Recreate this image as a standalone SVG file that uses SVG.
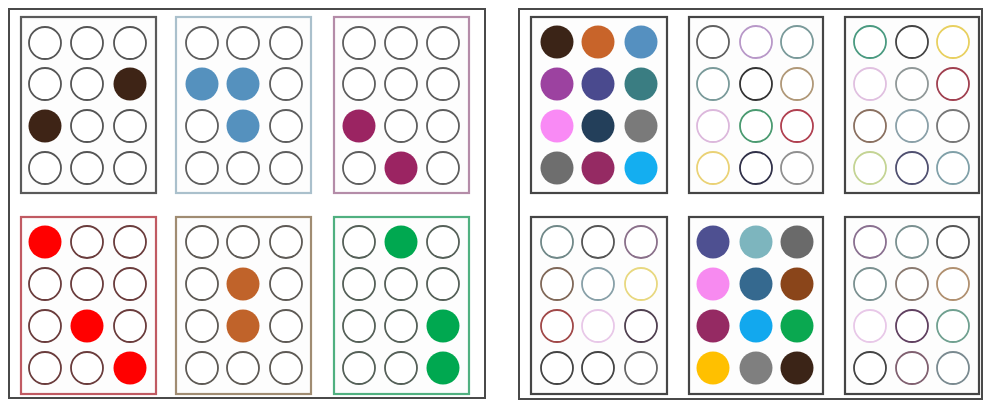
<svg xmlns="http://www.w3.org/2000/svg" width="985" height="401" viewBox="0 0 985 401">
<style>
.outer{fill:#fff;stroke:#4a4a4a;stroke-width:2}
.sub{fill:#fdfdfd;stroke-width:2.2}
.e{fill:#fff;stroke-width:1.8}
.f{stroke:none}
</style>
<rect width="985" height="401" fill="#fff"/>
<rect class="outer" x="9" y="9" width="476" height="389"/>
<rect class="outer" x="519" y="9" width="463" height="390"/>

<!-- Left panel -->
<g id="L1">
<rect class="sub" x="21" y="17" width="135" height="176" stroke="#5a5a5a"/>
<g stroke="#555">
<circle class="e" cx="45" cy="43" r="16"/><circle class="e" cx="87" cy="43" r="16"/><circle class="e" cx="130" cy="43" r="16"/>
<circle class="e" cx="45" cy="84" r="16"/><circle class="e" cx="87" cy="84" r="16"/>
<circle class="e" cx="87" cy="126" r="16"/><circle class="e" cx="130" cy="126" r="16"/>
<circle class="e" cx="45" cy="168" r="16"/><circle class="e" cx="87" cy="168" r="16"/><circle class="e" cx="130" cy="168" r="16"/>
</g>
<circle class="f" cx="130" cy="84" r="16.5" fill="#3e2416"/>
<circle class="f" cx="45" cy="126" r="16.5" fill="#3e2416"/>
</g>

<g id="L2">
<rect class="sub" x="176" y="17" width="135" height="176" stroke="#aac0cc"/>
<g stroke="#5e5e5e">
<circle class="e" cx="202" cy="43" r="16"/><circle class="e" cx="243" cy="43" r="16"/><circle class="e" cx="286" cy="43" r="16"/>
<circle class="e" cx="286" cy="84" r="16"/>
<circle class="e" cx="202" cy="126" r="16"/><circle class="e" cx="286" cy="126" r="16"/>
<circle class="e" cx="202" cy="168" r="16"/><circle class="e" cx="243" cy="168" r="16"/><circle class="e" cx="286" cy="168" r="16"/>
</g>
<g fill="#5591be"><circle class="f" cx="202" cy="84" r="16.5"/><circle class="f" cx="243" cy="84" r="16.5"/><circle class="f" cx="243" cy="126" r="16.5"/></g>
</g>

<g id="L3">
<rect class="sub" x="334" y="17" width="135" height="176" stroke="#b48ca8"/>
<g stroke="#5e5e5e">
<circle class="e" cx="359" cy="43" r="16"/><circle class="e" cx="401" cy="43" r="16"/><circle class="e" cx="443" cy="43" r="16"/>
<circle class="e" cx="359" cy="84" r="16"/><circle class="e" cx="401" cy="84" r="16"/><circle class="e" cx="443" cy="84" r="16"/>
<circle class="e" cx="401" cy="126" r="16"/><circle class="e" cx="443" cy="126" r="16"/>
<circle class="e" cx="359" cy="168" r="16"/><circle class="e" cx="443" cy="168" r="16"/>
</g>
<g fill="#9b2462"><circle class="f" cx="359" cy="126" r="16.5"/><circle class="f" cx="401" cy="168" r="16.5"/></g>
</g>

<g id="L4">
<rect class="sub" x="21" y="217" width="135" height="177" stroke="#c05a62"/>
<g stroke="#6a3c3c">
<circle class="e" cx="87" cy="242" r="16"/><circle class="e" cx="130" cy="242" r="16"/>
<circle class="e" cx="45" cy="284" r="16"/><circle class="e" cx="87" cy="284" r="16"/><circle class="e" cx="130" cy="284" r="16"/>
<circle class="e" cx="45" cy="326" r="16"/><circle class="e" cx="130" cy="326" r="16"/>
<circle class="e" cx="45" cy="368" r="16"/><circle class="e" cx="87" cy="368" r="16"/>
</g>
<g fill="#ff0000"><circle class="f" cx="45" cy="242" r="16.5"/><circle class="f" cx="87" cy="326" r="16.5"/><circle class="f" cx="130" cy="368" r="16.5"/></g>
</g>

<g id="L5">
<rect class="sub" x="176" y="217" width="135" height="177" stroke="#a08c72"/>
<g stroke="#5e5a55">
<circle class="e" cx="202" cy="242" r="16"/><circle class="e" cx="243" cy="242" r="16"/><circle class="e" cx="286" cy="242" r="16"/>
<circle class="e" cx="202" cy="284" r="16"/><circle class="e" cx="286" cy="284" r="16"/>
<circle class="e" cx="202" cy="326" r="16"/><circle class="e" cx="286" cy="326" r="16"/>
<circle class="e" cx="202" cy="368" r="16"/><circle class="e" cx="243" cy="368" r="16"/><circle class="e" cx="286" cy="368" r="16"/>
</g>
<g fill="#c0632a"><circle class="f" cx="243" cy="284" r="16.5"/><circle class="f" cx="243" cy="326" r="16.5"/></g>
</g>

<g id="L6">
<rect class="sub" x="334" y="217" width="135" height="177" stroke="#50b080"/>
<g stroke="#556058">
<circle class="e" cx="359" cy="242" r="16"/><circle class="e" cx="443" cy="242" r="16"/>
<circle class="e" cx="359" cy="284" r="16"/><circle class="e" cx="401" cy="284" r="16"/><circle class="e" cx="443" cy="284" r="16"/>
<circle class="e" cx="359" cy="326" r="16"/><circle class="e" cx="401" cy="326" r="16"/>
<circle class="e" cx="359" cy="368" r="16"/><circle class="e" cx="401" cy="368" r="16"/>
</g>
<g fill="#00a850"><circle class="f" cx="401" cy="242" r="16.5"/><circle class="f" cx="443" cy="326" r="16.5"/><circle class="f" cx="443" cy="368" r="16.5"/></g>
</g>

<!-- Right panel -->
<g id="R1">
<rect class="sub" x="531" y="17" width="136" height="176" stroke="#454545"/>
<circle class="f" cx="557" cy="42" r="16.5" fill="#3b2417"/><circle class="f" cx="598" cy="42" r="16.5" fill="#c8642a"/><circle class="f" cx="641" cy="42" r="16.5" fill="#5590c0"/>
<circle class="f" cx="557" cy="84" r="16.5" fill="#9c42a0"/><circle class="f" cx="598" cy="84" r="16.5" fill="#4a4a8e"/><circle class="f" cx="641" cy="84" r="16.5" fill="#3a7d82"/>
<circle class="f" cx="557" cy="126" r="16.5" fill="#f98af5"/><circle class="f" cx="598" cy="126" r="16.5" fill="#233f5a"/><circle class="f" cx="641" cy="126" r="16.5" fill="#7a7a7a"/>
<circle class="f" cx="557" cy="168" r="16.5" fill="#6e6e6e"/><circle class="f" cx="598" cy="168" r="16.5" fill="#952a63"/><circle class="f" cx="641" cy="168" r="16.5" fill="#14aef0"/>
</g>

<g id="R2">
<rect class="sub" x="689" y="17" width="134" height="176" stroke="#454545"/>
<circle class="e" cx="713" cy="42" r="16" stroke="#606060"/><circle class="e" cx="756" cy="42" r="16" stroke="#b898c8"/><circle class="e" cx="797" cy="42" r="16" stroke="#7a9a9a"/>
<circle class="e" cx="713" cy="84" r="16" stroke="#7a9a9a"/><circle class="e" cx="756" cy="84" r="16" stroke="#333"/><circle class="e" cx="797" cy="84" r="16" stroke="#b09878"/>
<circle class="e" cx="713" cy="126" r="16" stroke="#dcb8dc"/><circle class="e" cx="756" cy="126" r="16" stroke="#4a9a70"/><circle class="e" cx="797" cy="126" r="16" stroke="#b04050"/>
<circle class="e" cx="713" cy="168" r="16" stroke="#ead276"/><circle class="e" cx="756" cy="168" r="16" stroke="#303048"/><circle class="e" cx="797" cy="168" r="16" stroke="#909090"/>
</g>

<g id="R3">
<rect class="sub" x="845" y="17" width="134" height="176" stroke="#454545"/>
<circle class="e" cx="870" cy="42" r="16" stroke="#4a9a80"/><circle class="e" cx="912" cy="42" r="16" stroke="#444"/><circle class="e" cx="953" cy="42" r="16" stroke="#e8d060"/>
<circle class="e" cx="870" cy="84" r="16" stroke="#e0c0e0"/><circle class="e" cx="912" cy="84" r="16" stroke="#909898"/><circle class="e" cx="953" cy="84" r="16" stroke="#a04050"/>
<circle class="e" cx="870" cy="126" r="16" stroke="#8a7060"/><circle class="e" cx="912" cy="126" r="16" stroke="#8aa0a8"/><circle class="e" cx="953" cy="126" r="16" stroke="#777"/>
<circle class="e" cx="870" cy="168" r="16" stroke="#c4d494"/><circle class="e" cx="912" cy="168" r="16" stroke="#505070"/><circle class="e" cx="953" cy="168" r="16" stroke="#80a0a8"/>
</g>

<g id="R4">
<rect class="sub" x="531" y="217" width="136" height="177" stroke="#454545"/>
<circle class="e" cx="557" cy="242" r="16" stroke="#708888"/><circle class="e" cx="598" cy="242" r="16" stroke="#555"/><circle class="e" cx="641" cy="242" r="16" stroke="#8a708a"/>
<circle class="e" cx="557" cy="284" r="16" stroke="#806858"/><circle class="e" cx="598" cy="284" r="16" stroke="#88a0a8"/><circle class="e" cx="641" cy="284" r="16" stroke="#e8d880"/>
<circle class="e" cx="557" cy="326" r="16" stroke="#a04848"/><circle class="e" cx="598" cy="326" r="16" stroke="#e8c8e8"/><circle class="e" cx="641" cy="326" r="16" stroke="#504050"/>
<circle class="e" cx="557" cy="368" r="16" stroke="#444"/><circle class="e" cx="598" cy="368" r="16" stroke="#444"/><circle class="e" cx="641" cy="368" r="16" stroke="#666"/>
</g>

<g id="R5">
<rect class="sub" x="689" y="217" width="134" height="177" stroke="#454545"/>
<circle class="f" cx="713" cy="242" r="16.5" fill="#4e5091"/><circle class="f" cx="756" cy="242" r="16.5" fill="#7db5be"/><circle class="f" cx="797" cy="242" r="16.5" fill="#6a6a6a"/>
<circle class="f" cx="713" cy="284" r="16.5" fill="#f78af0"/><circle class="f" cx="756" cy="284" r="16.5" fill="#35698f"/><circle class="f" cx="797" cy="284" r="16.5" fill="#8a451a"/>
<circle class="f" cx="713" cy="326" r="16.5" fill="#952a63"/><circle class="f" cx="756" cy="326" r="16.5" fill="#12a8ee"/><circle class="f" cx="797" cy="326" r="16.5" fill="#0aa850"/>
<circle class="f" cx="713" cy="368" r="16.5" fill="#ffc000"/><circle class="f" cx="756" cy="368" r="16.5" fill="#7f7f7f"/><circle class="f" cx="797" cy="368" r="16.5" fill="#3b2417"/>
</g>

<g id="R6">
<rect class="sub" x="845" y="217" width="134" height="177" stroke="#454545"/>
<circle class="e" cx="870" cy="242" r="16" stroke="#8a7090"/><circle class="e" cx="912" cy="242" r="16" stroke="#7a9090"/><circle class="e" cx="953" cy="242" r="16" stroke="#555"/>
<circle class="e" cx="870" cy="284" r="16" stroke="#7a9090"/><circle class="e" cx="912" cy="284" r="16" stroke="#8a7a70"/><circle class="e" cx="953" cy="284" r="16" stroke="#b09070"/>
<circle class="e" cx="870" cy="326" r="16" stroke="#e8c8e8"/><circle class="e" cx="912" cy="326" r="16" stroke="#604060"/><circle class="e" cx="953" cy="326" r="16" stroke="#70a090"/>
<circle class="e" cx="870" cy="368" r="16" stroke="#444"/><circle class="e" cx="912" cy="368" r="16" stroke="#806070"/><circle class="e" cx="953" cy="368" r="16" stroke="#7a8a90"/>
</g>
</svg>
